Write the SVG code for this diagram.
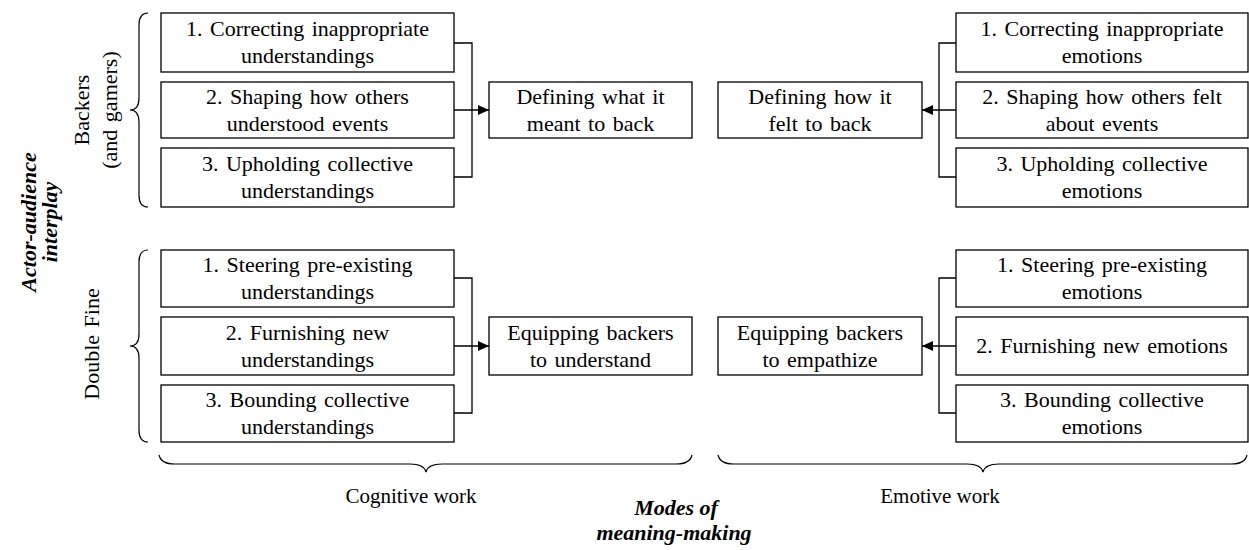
<svg xmlns="http://www.w3.org/2000/svg" width="1249" height="550" viewBox="0 0 1249 550" font-family="Liberation Serif, Times New Roman, serif">
<defs>
<style>
.box{fill:#fff;stroke:#000;stroke-width:1.3}
.t{font-size:22px;fill:#000;text-anchor:middle;word-spacing:2px}
.l{font-size:21px;fill:#000;text-anchor:middle}
.b{font-size:22px;font-weight:bold;font-style:italic;fill:#000;text-anchor:middle}
.ln{fill:none;stroke:#000;stroke-width:1.3}
.br{fill:none;stroke:#000;stroke-width:1.2}
</style>
<marker id="ah" markerUnits="userSpaceOnUse" markerWidth="12" markerHeight="10" refX="11" refY="5" orient="auto">
<path d="M0,0 L11,5 L0,10 Z" fill="#000"/>
</marker>
</defs>
<rect width="1249" height="550" fill="#fff"/>

<g id="braces">
<path class="br" d="M148,13 Q139,13 139,25 L139,98 Q139,110 130,110 Q139,110 139,122 L139,195 Q139,207 148,207"/>
<path class="br" d="M148,250 Q139,250 139,262 L139,334 Q139,346 130,346 Q139,346 139,358 L139,430 Q139,442 148,442"/>
<path class="br" d="M159,455 Q161,464 175,464 L410,464 Q424,464 426,472 Q428,464 442,464 L676,464 Q690,464 692,455"/>
<path class="br" d="M718,455 Q720,464 734,464 L967,464 Q981,464 983,472 Q985,464 999,464 L1231,464 Q1245,464 1247,455"/>
</g>

<g id="labels">
<text class="t" transform="translate(89,110) rotate(-90)">Backers</text>
<text class="t" transform="translate(117,110) rotate(-90)">(and gamers)</text>
<text class="t" transform="translate(99,344) rotate(-90)">Double Fine</text>
<text class="b" transform="translate(36,222) rotate(-90)">Actor-audience</text>
<text class="b" transform="translate(57,222) rotate(-90)">interplay</text>
<text class="l" x="411" y="503">Cognitive work</text>
<text class="l" x="940" y="503">Emotive work</text>
<text class="b" x="676" y="515">Modes of</text>
<text class="b" x="674" y="540">meaning-making</text>
</g>

<g id="connectors">
<path class="ln" d="M454,43 H472 V177 H454"/>
<path class="ln" d="M454,110 H489" marker-end="url(#ah)"/>
<path class="ln" d="M956,43 H939 V177 H956"/>
<path class="ln" d="M956,110 H922" marker-end="url(#ah)"/>
<path class="ln" d="M454,278 H472 V413 H454"/>
<path class="ln" d="M454,346 H489" marker-end="url(#ah)"/>
<path class="ln" d="M956,278 H939 V413 H956"/>
<path class="ln" d="M956,346 H922" marker-end="url(#ah)"/>
</g>

<g id="n-c1"><rect class="box" x="161" y="13" width="293" height="59"/><text class="t" x="307.5" y="36">1. Correcting inappropriate</text><text class="t" x="307.5" y="63">understandings</text></g>
<g id="n-c2"><rect class="box" x="161" y="82" width="293" height="56"/><text class="t" x="307.5" y="104">2. Shaping how others</text><text class="t" x="307.5" y="131">understood events</text></g>
<g id="n-c3"><rect class="box" x="161" y="148" width="293" height="59"/><text class="t" x="307.5" y="171">3. Upholding collective</text><text class="t" x="307.5" y="198">understandings</text></g>
<g id="n-cmid"><rect class="box" x="489" y="82" width="203" height="56"/><text class="t" x="590.5" y="104">Defining what it</text><text class="t" x="590.5" y="131">meant to back</text></g>
<g id="n-emid"><rect class="box" x="718" y="82" width="204" height="56"/><text class="t" x="820" y="104">Defining how it</text><text class="t" x="820" y="131">felt to back</text></g>
<g id="n-e1"><rect class="box" x="956" y="13" width="292" height="59"/><text class="t" x="1102" y="36">1. Correcting inappropriate</text><text class="t" x="1102" y="63">emotions</text></g>
<g id="n-e2"><rect class="box" x="956" y="82" width="292" height="56"/><text class="t" x="1102" y="104">2. Shaping how others felt</text><text class="t" x="1102" y="131">about events</text></g>
<g id="n-e3"><rect class="box" x="956" y="148" width="292" height="59"/><text class="t" x="1102" y="171">3. Upholding collective</text><text class="t" x="1102" y="198">emotions</text></g>

<g id="n-dc1"><rect class="box" x="161" y="250" width="293" height="57"/><text class="t" x="307.5" y="272">1. Steering pre-existing</text><text class="t" x="307.5" y="299">understandings</text></g>
<g id="n-dc2"><rect class="box" x="161" y="317" width="293" height="58"/><text class="t" x="307.5" y="340">2. Furnishing new</text><text class="t" x="307.5" y="367">understandings</text></g>
<g id="n-dc3"><rect class="box" x="161" y="385" width="293" height="57"/><text class="t" x="307.5" y="407">3. Bounding collective</text><text class="t" x="307.5" y="434">understandings</text></g>
<g id="n-dcmid"><rect class="box" x="489" y="317" width="203" height="58"/><text class="t" x="590.5" y="340">Equipping backers</text><text class="t" x="590.5" y="367">to understand</text></g>
<g id="n-demid"><rect class="box" x="718" y="317" width="204" height="58"/><text class="t" x="820" y="340">Equipping backers</text><text class="t" x="820" y="367">to empathize</text></g>
<g id="n-de1"><rect class="box" x="956" y="250" width="292" height="57"/><text class="t" x="1102" y="272">1. Steering pre-existing</text><text class="t" x="1102" y="299">emotions</text></g>
<g id="n-de2"><rect class="box" x="956" y="317" width="292" height="58"/><text class="t" x="1102" y="353">2. Furnishing new emotions</text></g>
<g id="n-de3"><rect class="box" x="956" y="385" width="292" height="57"/><text class="t" x="1102" y="407">3. Bounding collective</text><text class="t" x="1102" y="434">emotions</text></g>
</svg>
